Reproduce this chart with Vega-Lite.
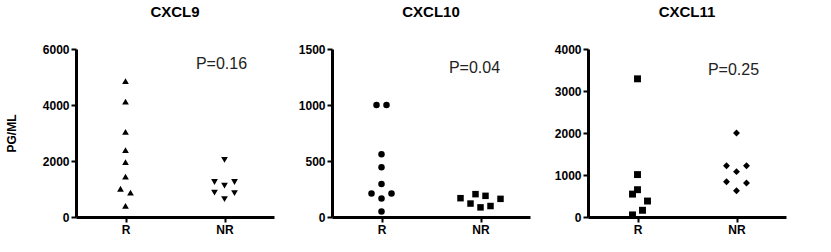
{
  "$schema": "https://vega.github.io/schema/vega-lite/v6.json",
  "background": "white",
  "spacing": 24,
  "config": {"view": {"stroke": null}, "font": "Liberation Sans", "axis": {"domainColor": "black", "domainWidth": 3, "labelFontWeight": "bold", "labelColor": "black", "grid": false}},
  "resolve": {"scale": {"x": "independent", "y": "independent"}},
  "hconcat": [
    {
      "title": {"text": "CXCL9", "fontSize": 15, "fontWeight": "bold", "color": "black", "frame": "group", "anchor": "middle", "offset": 23},
      "width": 198,
      "height": 168,
      "layer": [
        {
          "data": {"values": [
            {"g": "R", "k": "R9", "v": 4850, "slot": 0},
            {"g": "R", "k": "R9", "v": 4120, "slot": 0},
            {"g": "R", "k": "R9", "v": 3040, "slot": 0},
            {"g": "R", "k": "R9", "v": 2390, "slot": 0},
            {"g": "R", "k": "R9", "v": 1960, "slot": 0},
            {"g": "R", "k": "R9", "v": 1440, "slot": 0},
            {"g": "R", "k": "R9", "v": 1010, "slot": -1},
            {"g": "R", "k": "R9", "v": 870, "slot": 1},
            {"g": "R", "k": "R9", "v": 400, "slot": 0},
            {"g": "NR", "k": "NR9", "v": 2040, "slot": 0},
            {"g": "NR", "k": "NR9", "v": 1250, "slot": -2},
            {"g": "NR", "k": "NR9", "v": 1250, "slot": 2},
            {"g": "NR", "k": "NR9", "v": 1120, "slot": 0},
            {"g": "NR", "k": "NR9", "v": 870, "slot": -2},
            {"g": "NR", "k": "NR9", "v": 850, "slot": 2},
            {"g": "NR", "k": "NR9", "v": 640, "slot": 0}
          ]},
          "mark": {"type": "point", "filled": true, "color": "black", "size": 45, "opacity": 1},
          "encoding": {
            "x": {"field": "g", "type": "nominal", "scale": {"type": "point", "padding": 0.5, "domain": ["R", "NR"]}, "axis": {"title": null, "labelAngle": 0, "tickColor": "black", "tickWidth": 2, "labelFontSize": 12}},
            "xOffset": {"field": "slot", "type": "quantitative", "scale": {"domain": [-4, 4], "range": [-20, 20]}},
            "y": {"field": "v", "type": "quantitative", "scale": {"domain": [0, 6000], "nice": false}, "axis": {"title": "PG/ML", "values": [0, 2000, 4000, 6000], "format": "d", "titlePadding": 24, "tickColor": "black", "tickWidth": 2, "labelFontSize": 12, "titleFontSize": 12, "titleColor": "black"}},
            "shape": {"field": "k", "type": "nominal", "scale": {"domain": ["R9", "NR9", "R10", "NR10", "R11", "NR11"], "range": ["triangle-up", "triangle-down", "circle", "square", "square", "diamond"]}, "legend": null}
          }
        },
        {
          "data": {"values": [{"g": "NR", "v": 5450, "label": "P=0.16"}]},
          "mark": {"type": "text", "fontSize": 16, "color": "#222", "dx": -3, "baseline": "middle"},
          "encoding": {
            "x": {"field": "g", "type": "nominal"},
            "y": {"field": "v", "type": "quantitative"},
            "text": {"field": "label"}
          }
        }
      ]
    },
    {
      "title": {"text": "CXCL10", "fontSize": 15, "fontWeight": "bold", "color": "black", "frame": "group", "anchor": "middle", "offset": 23},
      "width": 198,
      "height": 168,
      "layer": [
        {
          "data": {"values": [
            {"g": "R", "k": "R10", "v": 1000, "slot": -1},
            {"g": "R", "k": "R10", "v": 1000, "slot": 1},
            {"g": "R", "k": "R10", "v": 560, "slot": 0},
            {"g": "R", "k": "R10", "v": 445, "slot": 0},
            {"g": "R", "k": "R10", "v": 295, "slot": 0},
            {"g": "R", "k": "R10", "v": 210, "slot": -2},
            {"g": "R", "k": "R10", "v": 210, "slot": 2},
            {"g": "R", "k": "R10", "v": 165, "slot": 0},
            {"g": "R", "k": "R10", "v": 50, "slot": 0},
            {"g": "NR", "k": "NR10", "v": 168, "slot": -4},
            {"g": "NR", "k": "NR10", "v": 120, "slot": -2},
            {"g": "NR", "k": "NR10", "v": 204, "slot": -1},
            {"g": "NR", "k": "NR10", "v": 86, "slot": 0},
            {"g": "NR", "k": "NR10", "v": 189, "slot": 1},
            {"g": "NR", "k": "NR10", "v": 98, "slot": 2},
            {"g": "NR", "k": "NR10", "v": 162, "slot": 4}
          ]},
          "mark": {"type": "point", "filled": true, "color": "black", "size": 42, "opacity": 1},
          "encoding": {
            "x": {"field": "g", "type": "nominal", "scale": {"type": "point", "padding": 0.5, "domain": ["R", "NR"]}, "axis": {"title": null, "labelAngle": 0, "tickColor": "black", "tickWidth": 2, "labelFontSize": 12}},
            "xOffset": {"field": "slot", "type": "quantitative", "scale": {"domain": [-4, 4], "range": [-20, 20]}},
            "y": {"field": "v", "type": "quantitative", "scale": {"domain": [0, 1500], "nice": false}, "axis": {"title": null, "values": [0, 500, 1000, 1500], "format": "d", "tickColor": "black", "tickWidth": 2, "labelFontSize": 12}},
            "shape": {"field": "k", "type": "nominal", "scale": {"domain": ["R9", "NR9", "R10", "NR10", "R11", "NR11"], "range": ["triangle-up", "triangle-down", "circle", "square", "square", "diamond"]}, "legend": null}
          }
        },
        {
          "data": {"values": [{"g": "NR", "v": 1330, "label": "P=0.04"}]},
          "mark": {"type": "text", "fontSize": 16, "color": "#222", "dx": -6, "baseline": "middle"},
          "encoding": {
            "x": {"field": "g", "type": "nominal"},
            "y": {"field": "v", "type": "quantitative"},
            "text": {"field": "label"}
          }
        }
      ]
    },
    {
      "title": {"text": "CXCL11", "fontSize": 15, "fontWeight": "bold", "color": "black", "frame": "group", "anchor": "middle", "offset": 23},
      "width": 198,
      "height": 168,
      "layer": [
        {
          "data": {"values": [
            {"g": "R", "k": "R11", "v": 3290, "slot": 0},
            {"g": "R", "k": "R11", "v": 1010, "slot": 0},
            {"g": "R", "k": "R11", "v": 650, "slot": 0},
            {"g": "R", "k": "R11", "v": 545, "slot": -1},
            {"g": "R", "k": "R11", "v": 380, "slot": 2},
            {"g": "R", "k": "R11", "v": 160, "slot": 1},
            {"g": "R", "k": "R11", "v": 50, "slot": -1},
            {"g": "NR", "k": "NR11", "v": 2000, "slot": 0},
            {"g": "NR", "k": "NR11", "v": 1220, "slot": -2},
            {"g": "NR", "k": "NR11", "v": 1220, "slot": 2},
            {"g": "NR", "k": "NR11", "v": 1080, "slot": 0},
            {"g": "NR", "k": "NR11", "v": 840, "slot": -2},
            {"g": "NR", "k": "NR11", "v": 810, "slot": 2},
            {"g": "NR", "k": "NR11", "v": 625, "slot": 0}
          ]},
          "mark": {"type": "point", "filled": true, "color": "black", "size": 48, "opacity": 1},
          "encoding": {
            "x": {"field": "g", "type": "nominal", "scale": {"type": "point", "padding": 0.5, "domain": ["R", "NR"]}, "axis": {"title": null, "labelAngle": 0, "tickColor": "black", "tickWidth": 2, "labelFontSize": 12}},
            "xOffset": {"field": "slot", "type": "quantitative", "scale": {"domain": [-4, 4], "range": [-20, 20]}},
            "y": {"field": "v", "type": "quantitative", "scale": {"domain": [0, 4000], "nice": false}, "axis": {"title": null, "values": [0, 1000, 2000, 3000, 4000], "format": "d", "tickColor": "black", "tickWidth": 2, "labelFontSize": 12}},
            "shape": {"field": "k", "type": "nominal", "scale": {"domain": ["R9", "NR9", "R10", "NR10", "R11", "NR11"], "range": ["triangle-up", "triangle-down", "circle", "square", "square", "diamond"]}, "legend": null}
          }
        },
        {
          "data": {"values": [{"g": "NR", "v": 3510, "label": "P=0.25"}]},
          "mark": {"type": "text", "fontSize": 16, "color": "#222", "dx": -3, "baseline": "middle"},
          "encoding": {
            "x": {"field": "g", "type": "nominal"},
            "y": {"field": "v", "type": "quantitative"},
            "text": {"field": "label"}
          }
        }
      ]
    }
  ]
}
